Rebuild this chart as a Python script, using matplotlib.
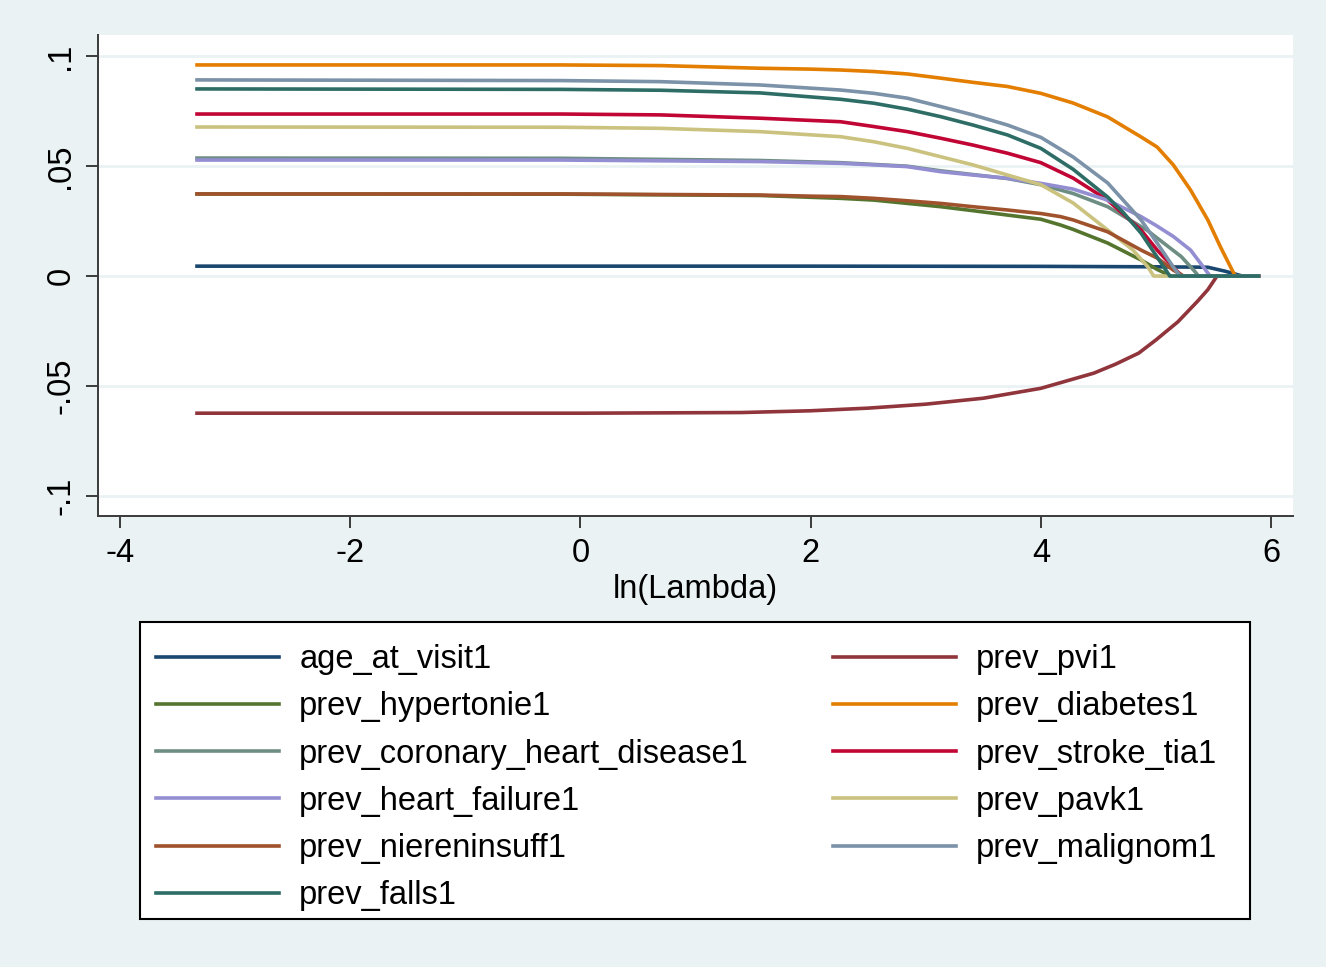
import matplotlib
matplotlib.use("Agg")
import matplotlib.pyplot as plt
from matplotlib.patches import Rectangle

# Lasso coefficient paths: ln(lambda) and coefficient for each predictor
lnl_age = [-3.33, 0.0, 2.0, 4.0, 5.0, 5.45, 5.6, 5.75, 5.89]
coef_age = [0.0045, 0.0045, 0.0045, 0.0044, 0.0042, 0.0040, 0.0022, 0.0, 0.0]

lnl_pvi = [-3.33, 0.0, 1.4, 2.0, 2.5, 3.0, 3.5, 4.0, 4.46, 4.65, 4.85, 5.0, 5.19,
           5.36, 5.45, 5.53, 5.89]
coef_pvi = [-0.0623, -0.0623, -0.0620, -0.0612, -0.0600, -0.0582, -0.0555, -0.0510,
            -0.0441, -0.0400, -0.0350, -0.0290, -0.0208, -0.0115, -0.0062, 0.0, 0.0]

lnl_hyp = [-3.33, -0.17, 1.56, 2.26, 2.55, 2.84, 3.13, 3.41, 3.71, 4.0, 4.17, 4.28,
           4.58, 4.87, 5.01, 5.13, 5.89]
coef_hyp = [0.0373, 0.0372, 0.0366, 0.0353, 0.0345, 0.0330, 0.0315, 0.0297, 0.0277,
            0.0258, 0.0232, 0.0212, 0.0150, 0.0073, 0.0030, 0.0, 0.0]

lnl_diab = [-3.33, -0.17, 0.70, 1.56, 2.0, 2.26, 2.55, 2.84, 3.13, 3.41, 3.71, 4.0,
            4.28, 4.58, 4.87, 5.01, 5.15, 5.30, 5.45, 5.56, 5.67, 5.69, 5.89]
coef_diab = [0.0959, 0.0959, 0.0956, 0.0944, 0.0940, 0.0936, 0.0929, 0.0918, 0.0899,
             0.0880, 0.0861, 0.0830, 0.0786, 0.0723, 0.0632, 0.0586, 0.0505, 0.0391,
             0.0255, 0.0132, 0.0018, 0.0, 0.0]

lnl_chd = [-3.33, -0.17, 1.56, 2.26, 2.55, 2.84, 3.13, 3.41, 3.71, 4.0, 4.28, 4.58,
           4.92, 5.22, 5.33, 5.37, 5.89]
coef_chd = [0.0536, 0.0535, 0.0525, 0.0515, 0.0507, 0.0499, 0.0478, 0.0461, 0.0443,
            0.0415, 0.0375, 0.0315, 0.0209, 0.0088, 0.0025, 0.0, 0.0]

lnl_stroke = [-3.33, -0.17, 0.70, 1.56, 2.26, 2.55, 2.84, 3.13, 3.41, 3.71, 4.0, 4.28,
              4.58, 4.87, 5.01, 5.19, 5.23, 5.89]
coef_stroke = [0.0736, 0.0736, 0.0732, 0.0717, 0.0701, 0.0679, 0.0656, 0.0626, 0.0595,
               0.0558, 0.0515, 0.0445, 0.0345, 0.0209, 0.0118, 0.0018, 0.0, 0.0]

lnl_hf = [-3.33, -0.17, 1.56, 2.26, 2.55, 2.84, 3.13, 3.41, 3.71, 4.0, 4.28, 4.58,
          4.87, 5.0, 5.15, 5.30, 5.41, 5.47, 5.89]
coef_hf = [0.0527, 0.0527, 0.0520, 0.0512, 0.0505, 0.0497, 0.0474, 0.0459, 0.0444,
           0.0421, 0.0395, 0.0345, 0.0270, 0.0230, 0.0180, 0.0118, 0.0042, 0.0, 0.0]

lnl_pavk = [-3.33, -0.17, 0.70, 1.56, 2.26, 2.55, 2.84, 3.13, 3.41, 3.71, 4.0, 4.28,
            4.58, 4.80, 4.93, 4.98, 5.89]
coef_pavk = [0.0677, 0.0676, 0.0671, 0.0656, 0.0633, 0.0610, 0.0580, 0.0542, 0.0505,
             0.0459, 0.0415, 0.0332, 0.0209, 0.0118, 0.0041, 0.0, 0.0]

lnl_niere = [-3.33, -0.17, 1.56, 2.0, 2.26, 2.55, 2.84, 3.13, 3.41, 3.71, 4.0, 4.17,
             4.28, 4.58, 4.87, 5.01, 5.15, 5.24, 5.89]
coef_niere = [0.0373, 0.0373, 0.0368, 0.0363, 0.0361, 0.0353, 0.0342, 0.0330, 0.0315,
              0.0300, 0.0284, 0.0270, 0.0255, 0.0201, 0.0118, 0.0082, 0.0027, 0.0, 0.0]

lnl_malig = [-3.33, -0.17, 0.70, 1.56, 2.26, 2.55, 2.84, 3.13, 3.41, 3.71, 4.0, 4.28,
             4.58, 4.87, 5.01, 5.15, 5.21, 5.89]
coef_malig = [0.0891, 0.0888, 0.0883, 0.0868, 0.0845, 0.0830, 0.0808, 0.0770, 0.0732,
              0.0686, 0.0630, 0.0541, 0.0423, 0.0255, 0.0150, 0.0041, 0.0, 0.0]

lnl_falls = [-3.33, -0.17, 0.70, 1.56, 2.26, 2.55, 2.84, 3.13, 3.41, 3.71, 4.0, 4.28,
             4.58, 4.72, 4.87, 5.01, 5.12, 5.89]
coef_falls = [0.0850, 0.0848, 0.0844, 0.0832, 0.0803, 0.0785, 0.0758, 0.0724, 0.0686,
              0.0641, 0.0580, 0.0485, 0.0359, 0.0286, 0.0195, 0.0086, 0.0, 0.0]

# drawing order (variable order of the model)
series = [
    ("age_at_visit1", lnl_age, coef_age, "#1a476f"),
    ("prev_pvi1", lnl_pvi, coef_pvi, "#90353b"),
    ("prev_hypertonie1", lnl_hyp, coef_hyp, "#55752f"),
    ("prev_diabetes1", lnl_diab, coef_diab, "#e37e00"),
    ("prev_coronary_heart_disease1", lnl_chd, coef_chd, "#6e8e84"),
    ("prev_stroke_tia1", lnl_stroke, coef_stroke, "#c10534"),
    ("prev_heart_failure1", lnl_hf, coef_hf, "#938dd2"),
    ("prev_pavk1", lnl_pavk, coef_pavk, "#cac27e"),
    ("prev_niereninsuff1", lnl_niere, coef_niere, "#a0522d"),
    ("prev_malignom1", lnl_malig, coef_malig, "#7b92a8"),
    ("prev_falls1", lnl_falls, coef_falls, "#2d6d66"),
]

y_ticks = [-0.1, -0.05, 0, 0.05, 0.1]
y_ticklabels = ["-.1", "-.05", "0", ".05", ".1"]
x_ticks = [-4, -2, 0, 2, 4, 6]

bg = "#eaf2f3"
fs = 23.5
plt.rcParams["font.family"] = ["Liberation Sans", "DejaVu Sans"]

W, H = 1326, 967
fig = plt.figure(figsize=(W / 100, H / 100), dpi=100, facecolor=bg)
ax = fig.add_axes([98 / W, 1 - 516 / H, (1293 - 98) / W, (516 - 35) / H])
ax.set_facecolor("white")

handles = {}
for name, x, y, col in series:
    line, = ax.plot(x, y, color=col, lw=2.6, solid_joinstyle="round", label=name)
    handles[name] = line

ax.set_xlim(-4.19, 6.19)
ax.set_ylim(-0.109, 0.1095)
ax.set_xticks(x_ticks)
ax.set_xticklabels([str(t) for t in x_ticks])
ax.set_yticks(y_ticks)
ax.set_yticklabels(y_ticklabels, rotation=90, va="center")
ax.grid(axis="y", color=bg, lw=2)
ax.set_axisbelow(True)

for side in ["top", "right"]:
    ax.spines[side].set_visible(False)
for side in ["left", "bottom"]:
    ax.spines[side].set_color("#3a3a3a")
    ax.spines[side].set_linewidth(1.4)
ax.tick_params(direction="out", length=8.5, width=1.4, color="#3a3a3a",
               labelsize=fs, pad=7)
ax.set_xlabel("ln(Lambda)", fontsize=fs, labelpad=3.7)

# legend box
fig.patches.append(Rectangle((140 / W, 1 - 919 / H), 1110 / W, 297 / H,
                             transform=fig.transFigure, facecolor="white",
                             edgecolor="black", lw=1.5, zorder=1))

# legend filled row-wise in two columns
order = ["age_at_visit1", "prev_hypertonie1", "prev_coronary_heart_disease1",
         "prev_heart_failure1", "prev_niereninsuff1", "prev_falls1",
         "prev_pvi1", "prev_diabetes1", "prev_stroke_tia1", "prev_pavk1",
         "prev_malignom1"]
leg = fig.legend([handles[n] for n in order], order, ncol=2, loc="upper left",
                 bbox_to_anchor=(140 / W, 1 - 628 / H), fontsize=fs,
                 frameon=False, handlelength=3.77, handletextpad=0.61,
                 columnspacing=2.58, labelspacing=0.495, borderpad=0.5,
                 borderaxespad=0)
leg.set_zorder(5)

fig.savefig("out.png", dpi=100, facecolor=bg)
